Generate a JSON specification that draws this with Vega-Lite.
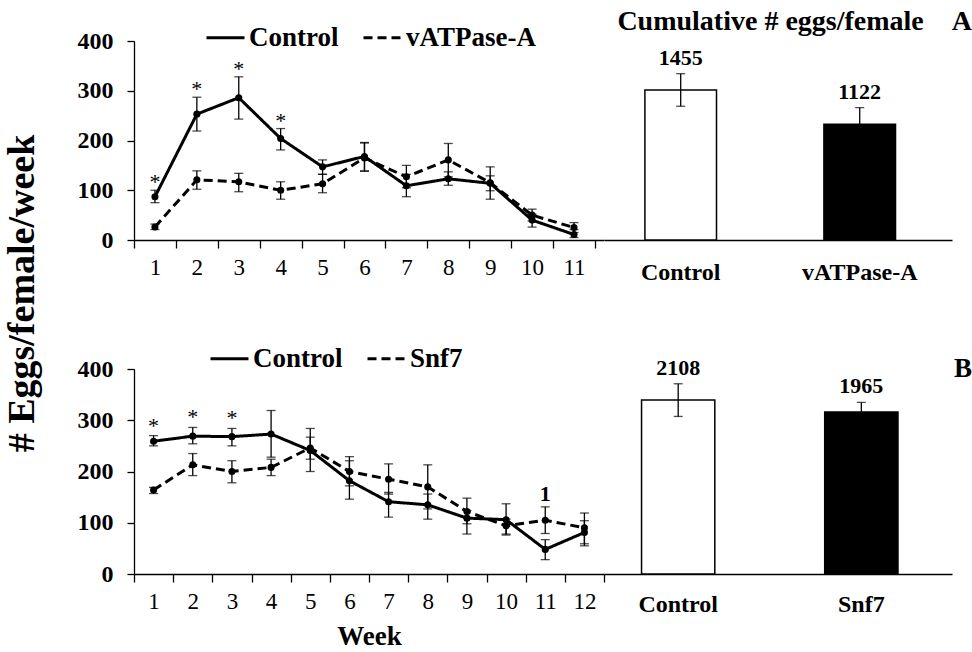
{
  "$schema": "https://vega.github.io/schema/vega-lite/v6.json",
  "background": "white",
  "padding": {"left": 3, "top": 8, "right": 0, "bottom": 0},
  "bounds": "flush",
  "align": "each",
  "columns": 2,
  "spacing": {"row": 129, "column": 0},
  "resolve": {"scale": {"strokeDash": "independent", "fill": "independent"}, "legend": {"strokeDash": "independent", "fill": "independent"}},
  "config": {
    "font": "Liberation Serif",
    "view": {"stroke": null},
    "axis": {"domainColor": "black", "tickColor": "black", "labelColor": "black", "titleColor": "black", "grid": false, "domainWidth": 1.3, "tickWidth": 1.3},
    "legend": {"labelColor": "black"}
  },
  "datasets": {
    "lineA": [
      {"week": 1, "group": "Control", "mean": 87, "lo": 75, "hi": 100, "sig": "*"},
      {"week": 2, "group": "Control", "mean": 253, "lo": 219, "hi": 287, "sig": "*"},
      {"week": 3, "group": "Control", "mean": 286, "lo": 243, "hi": 328, "sig": "*"},
      {"week": 4, "group": "Control", "mean": 204, "lo": 181, "hi": 224, "sig": "*"},
      {"week": 5, "group": "Control", "mean": 147, "lo": 132, "hi": 161, "sig": ""},
      {"week": 6, "group": "Control", "mean": 168, "lo": 139, "hi": 196, "sig": ""},
      {"week": 7, "group": "Control", "mean": 109, "lo": 87, "hi": 132, "sig": ""},
      {"week": 8, "group": "Control", "mean": 123, "lo": 110, "hi": 137, "sig": ""},
      {"week": 9, "group": "Control", "mean": 114, "lo": 99, "hi": 129, "sig": ""},
      {"week": 10, "group": "Control", "mean": 40, "lo": 26, "hi": 52, "sig": ""},
      {"week": 11, "group": "Control", "mean": 11, "lo": 5, "hi": 21, "sig": ""},
      {"week": 1, "group": "vATPase-A", "mean": 26, "lo": 21, "hi": 32, "sig": ""},
      {"week": 2, "group": "vATPase-A", "mean": 121, "lo": 102, "hi": 139, "sig": ""},
      {"week": 3, "group": "vATPase-A", "mean": 117, "lo": 97, "hi": 134, "sig": ""},
      {"week": 4, "group": "vATPase-A", "mean": 100, "lo": 82, "hi": 117, "sig": ""},
      {"week": 5, "group": "vATPase-A", "mean": 113, "lo": 95, "hi": 132, "sig": ""},
      {"week": 6, "group": "vATPase-A", "mean": 165, "lo": 138, "hi": 195, "sig": ""},
      {"week": 7, "group": "vATPase-A", "mean": 127, "lo": 105, "hi": 150, "sig": ""},
      {"week": 8, "group": "vATPase-A", "mean": 161, "lo": 127, "hi": 194, "sig": ""},
      {"week": 9, "group": "vATPase-A", "mean": 115, "lo": 82, "hi": 147, "sig": ""},
      {"week": 10, "group": "vATPase-A", "mean": 50, "lo": 38, "hi": 62, "sig": ""},
      {"week": 11, "group": "vATPase-A", "mean": 25, "lo": 15, "hi": 35, "sig": ""}
    ],
    "lineB": [
      {"week": 1, "group": "Control", "mean": 259, "lo": 250, "hi": 270, "sig": "*"},
      {"week": 2, "group": "Control", "mean": 269, "lo": 254, "hi": 286, "sig": "*"},
      {"week": 3, "group": "Control", "mean": 268, "lo": 250, "hi": 284, "sig": "*"},
      {"week": 4, "group": "Control", "mean": 273, "lo": 228, "hi": 319, "sig": ""},
      {"week": 5, "group": "Control", "mean": 241, "lo": 200, "hi": 284, "sig": ""},
      {"week": 6, "group": "Control", "mean": 182, "lo": 146, "hi": 221, "sig": ""},
      {"week": 7, "group": "Control", "mean": 141, "lo": 111, "hi": 159, "sig": ""},
      {"week": 8, "group": "Control", "mean": 135, "lo": 107, "hi": 156, "sig": ""},
      {"week": 9, "group": "Control", "mean": 109, "lo": 78, "hi": 124, "sig": ""},
      {"week": 10, "group": "Control", "mean": 106, "lo": 76, "hi": 137, "sig": ""},
      {"week": 11, "group": "Control", "mean": 48, "lo": 28, "hi": 67, "sig": ""},
      {"week": 12, "group": "Control", "mean": 81, "lo": 55, "hi": 104, "sig": ""},
      {"week": 1, "group": "Snf7", "mean": 164, "lo": 157, "hi": 169, "sig": ""},
      {"week": 2, "group": "Snf7", "mean": 213, "lo": 192, "hi": 235, "sig": ""},
      {"week": 3, "group": "Snf7", "mean": 200, "lo": 178, "hi": 221, "sig": ""},
      {"week": 4, "group": "Snf7", "mean": 208, "lo": 192, "hi": 224, "sig": ""},
      {"week": 5, "group": "Snf7", "mean": 246, "lo": 224, "hi": 267, "sig": ""},
      {"week": 6, "group": "Snf7", "mean": 200, "lo": 172, "hi": 229, "sig": ""},
      {"week": 7, "group": "Snf7", "mean": 185, "lo": 156, "hi": 215, "sig": ""},
      {"week": 8, "group": "Snf7", "mean": 170, "lo": 127, "hi": 213, "sig": ""},
      {"week": 9, "group": "Snf7", "mean": 122, "lo": 98, "hi": 148, "sig": ""},
      {"week": 10, "group": "Snf7", "mean": 94, "lo": 78, "hi": 107, "sig": ""},
      {"week": 11, "group": "Snf7", "mean": 105, "lo": 79, "hi": 131, "sig": "1"},
      {"week": 12, "group": "Snf7", "mean": 90, "lo": 59, "hi": 119, "sig": ""}
    ],
    "barA": [
      {"group": "Control", "value": 1455, "lo": 1297, "hi": 1613},
      {"group": "vATPase-A", "value": 1122, "lo": 961, "hi": 1283}
    ],
    "barB": [
      {"group": "Control", "value": 2108, "lo": 1910, "hi": 2306},
      {"group": "Snf7", "value": 1965, "lo": 1850, "hi": 2080}
    ]
  },
  "concat": [
    {
      "width": 470,
      "height": 199,
      "data": {"name": "lineA"},
      "encoding": {
        "x": {"field": "week", "type": "ordinal", "scale": {"paddingInner": 0, "paddingOuter": 0.108, "align": 0},
          "axis": {"title": null, "labelAngle": 0, "labelFontSize": 23, "tickBand": "extent", "tickSize": 8, "labelPadding": 8}}
      },
      "layer": [
        {
          "mark": {"type": "errorbar", "ticks": {"size": 9, "color": "black"}, "color": "black", "thickness": 1.3},
          "encoding": {
            "y": {"field": "lo", "type": "quantitative", "scale": {"domain": [0, 400], "nice": false},
              "axis": {"title": null, "values": [0, 100, 200, 300, 400], "labelFontWeight": "bold", "labelFontSize": 24, "tickSize": 7, "labelPadding": 14}},
            "y2": {"field": "hi"}
          }
        },
        {
          "mark": {"type": "line", "color": "black", "strokeWidth": 3},
          "encoding": {
            "y": {"field": "mean", "type": "quantitative", "scale": {"domain": [0, 400], "nice": false}, "axis": {"title": null, "values": [0, 100, 200, 300, 400], "labelFontWeight": "bold", "labelFontSize": 24, "tickSize": 7, "labelPadding": 14}},
            "strokeDash": {"field": "group", "type": "nominal",
              "scale": {"domain": ["Control", "vATPase-A"], "range": [[1, 0], [9, 5]]},
              "legend": {"orient": "none", "legendX": 71, "legendY": -24, "direction": "horizontal", "title": null, "symbolType": "stroke", "symbolSize": 1444, "symbolStrokeWidth": 3, "symbolStrokeColor": "black", "labelFontSize": 27, "labelFontWeight": "bold", "labelOffset": 3, "columnPadding": 18}}
          }
        },
        {
          "mark": {"type": "point", "filled": true, "color": "black", "size": 50, "opacity": 1},
          "encoding": {
            "y": {"field": "mean", "type": "quantitative", "scale": {"domain": [0, 400], "nice": false}, "axis": {"title": null, "values": [0, 100, 200, 300, 400], "labelFontWeight": "bold", "labelFontSize": 24, "tickSize": 7, "labelPadding": 14}},
            "detail": {"field": "group"}
          }
        },
        {
          "transform": [{"filter": "datum.sig == '*'"}],
          "mark": {"type": "text", "fontSize": 22, "baseline": "alphabetic", "dy": -1, "color": "black"},
          "encoding": {
            "y": {"field": "hi", "type": "quantitative", "scale": {"domain": [0, 400], "nice": false}, "axis": {"title": null, "values": [0, 100, 200, 300, 400], "labelFontWeight": "bold", "labelFontSize": 24, "tickSize": 7, "labelPadding": 14}},
            "text": {"field": "sig"}
          }
        }
      ]
    },
    {
      "width": 348,
      "height": 199,
      "data": {"name": "barA"},
      "title": {"text": "Cumulative # eggs/female\u00a0\u00a0\u00a0\u00a0A", "anchor": "end", "frame": "group", "dx": 20, "fontSize": 28, "fontWeight": "bold", "offset": -17, "baseline": "alphabetic", "color": "black", "font": "Liberation Serif"},
      "encoding": {
        "x": {"field": "group", "type": "nominal", "sort": null,
          "scale": {"paddingInner": 0.6, "paddingOuter": 0.272, "align": 0.42},
          "axis": {"title": null, "ticks": false, "labelAngle": 0, "labelFontSize": 24, "labelFontWeight": "bold", "labelPadding": 20}}
      },
      "layer": [
        {
          "mark": {"type": "bar", "stroke": "black", "strokeWidth": 1.5},
          "encoding": {
            "y": {"field": "value", "type": "quantitative", "scale": {"domain": [0, 1930], "nice": false}, "axis": null},
            "fill": {"field": "group", "type": "nominal", "scale": {"domain": ["Control", "vATPase-A"], "range": ["white", "black"]}, "legend": null}
          }
        },
        {
          "mark": {"type": "errorbar", "ticks": {"size": 9, "color": "black"}, "color": "black", "thickness": 1.3},
          "encoding": {
            "y": {"field": "lo", "type": "quantitative", "scale": {"domain": [0, 1930], "nice": false}, "axis": null},
            "y2": {"field": "hi"}
          }
        },
        {
          "mark": {"type": "text", "fontSize": 22, "fontWeight": "bold", "baseline": "alphabetic", "dy": -9, "color": "black"},
          "encoding": {
            "y": {"field": "hi", "type": "quantitative", "scale": {"domain": [0, 1930], "nice": false}, "axis": null},
            "text": {"field": "value", "type": "quantitative", "format": "d"}
          }
        }
      ]
    },
    {
      "width": 470,
      "height": 205,
      "data": {"name": "lineB"},
      "encoding": {
        "x": {"field": "week", "type": "ordinal", "scale": {"paddingInner": 0, "paddingOuter": 0},
          "axis": {"title": "Week", "titleFontSize": 27, "titleFontWeight": "bold", "titlePadding": 10, "labelAngle": 0, "labelFontSize": 23, "tickBand": "extent", "tickSize": 8, "labelPadding": 8}}
      },
      "layer": [
        {
          "mark": {"type": "errorbar", "ticks": {"size": 9, "color": "black"}, "color": "black", "thickness": 1.3},
          "encoding": {
            "y": {"field": "lo", "type": "quantitative", "scale": {"domain": [0, 400], "nice": false},
              "axis": {"title": "# Eggs/female/week", "titleFontSize": 38, "titleFontWeight": "bold", "titleX": -112, "titleY": -76, "titleAngle": -90, "titleAlign": "center", "titleBaseline": "middle", "values": [0, 100, 200, 300, 400], "labelFontWeight": "bold", "labelFontSize": 24, "tickSize": 7, "labelPadding": 14}},
            "y2": {"field": "hi"}
          }
        },
        {
          "mark": {"type": "line", "color": "black", "strokeWidth": 3},
          "encoding": {
            "y": {"field": "mean", "type": "quantitative", "scale": {"domain": [0, 400], "nice": false},
              "axis": {"title": "# Eggs/female/week", "titleFontSize": 38, "titleFontWeight": "bold", "titleX": -112, "titleY": -76, "titleAngle": -90, "titleAlign": "center", "titleBaseline": "middle", "values": [0, 100, 200, 300, 400], "labelFontWeight": "bold", "labelFontSize": 24, "tickSize": 7, "labelPadding": 14}},
            "strokeDash": {"field": "group", "type": "nominal",
              "scale": {"domain": ["Control", "Snf7"], "range": [[1, 0], [9, 5]]},
              "legend": {"orient": "none", "legendX": 75, "legendY": -31, "direction": "horizontal", "title": null, "symbolType": "stroke", "symbolSize": 1444, "symbolStrokeWidth": 3, "symbolStrokeColor": "black", "labelFontSize": 27, "labelFontWeight": "bold", "labelOffset": 3, "columnPadding": 18}}
          }
        },
        {
          "mark": {"type": "point", "filled": true, "color": "black", "size": 50, "opacity": 1},
          "encoding": {
            "y": {"field": "mean", "type": "quantitative", "scale": {"domain": [0, 400], "nice": false},
              "axis": {"title": "# Eggs/female/week", "titleFontSize": 38, "titleFontWeight": "bold", "titleX": -112, "titleY": -76, "titleAngle": -90, "titleAlign": "center", "titleBaseline": "middle", "values": [0, 100, 200, 300, 400], "labelFontWeight": "bold", "labelFontSize": 24, "tickSize": 7, "labelPadding": 14}},
            "detail": {"field": "group"}
          }
        },
        {
          "transform": [{"filter": "datum.sig == '*'"}],
          "mark": {"type": "text", "fontSize": 22, "baseline": "alphabetic", "dy": -3, "color": "black"},
          "encoding": {
            "y": {"field": "hi", "type": "quantitative", "scale": {"domain": [0, 400], "nice": false},
              "axis": {"title": "# Eggs/female/week", "titleFontSize": 38, "titleFontWeight": "bold", "titleX": -112, "titleY": -76, "titleAngle": -90, "titleAlign": "center", "titleBaseline": "middle", "values": [0, 100, 200, 300, 400], "labelFontWeight": "bold", "labelFontSize": 24, "tickSize": 7, "labelPadding": 14}},
            "text": {"field": "sig"}
          }
        },
        {
          "transform": [{"filter": "datum.sig == '1'"}],
          "mark": {"type": "text", "fontSize": 22, "fontWeight": "bold", "baseline": "alphabetic", "dy": -6, "color": "black"},
          "encoding": {
            "y": {"field": "hi", "type": "quantitative", "scale": {"domain": [0, 400], "nice": false},
              "axis": {"title": "# Eggs/female/week", "titleFontSize": 38, "titleFontWeight": "bold", "titleX": -112, "titleY": -76, "titleAngle": -90, "titleAlign": "center", "titleBaseline": "middle", "values": [0, 100, 200, 300, 400], "labelFontWeight": "bold", "labelFontSize": 24, "tickSize": 7, "labelPadding": 14}},
            "text": {"field": "sig"}
          }
        }
      ]
    },
    {
      "width": 348,
      "height": 205,
      "data": {"name": "barB"},
      "title": {"text": "B", "anchor": "end", "frame": "group", "dx": 20, "fontSize": 27, "fontWeight": "bold", "offset": -47, "baseline": "alphabetic", "color": "black", "font": "Liberation Serif"},
      "encoding": {
        "x": {"field": "group", "type": "nominal", "sort": null,
          "scale": {"paddingInner": 0.6, "paddingOuter": 0.25, "align": 0.41},
          "axis": {"title": null, "ticks": false, "labelAngle": 0, "labelFontSize": 24, "labelFontWeight": "bold", "labelPadding": 18}}
      },
      "layer": [
        {
          "mark": {"type": "bar", "stroke": "black", "strokeWidth": 1.5},
          "encoding": {
            "y": {"field": "value", "type": "quantitative", "scale": {"domain": [0, 2485], "nice": false}, "axis": null},
            "fill": {"field": "group", "type": "nominal", "scale": {"domain": ["Control", "Snf7"], "range": ["white", "black"]}, "legend": null}
          }
        },
        {
          "mark": {"type": "errorbar", "ticks": {"size": 9, "color": "black"}, "color": "black", "thickness": 1.3},
          "encoding": {
            "y": {"field": "lo", "type": "quantitative", "scale": {"domain": [0, 2485], "nice": false}, "axis": null},
            "y2": {"field": "hi"}
          }
        },
        {
          "mark": {"type": "text", "fontSize": 22, "fontWeight": "bold", "baseline": "alphabetic", "dy": -9, "color": "black"},
          "encoding": {
            "y": {"field": "hi", "type": "quantitative", "scale": {"domain": [0, 2485], "nice": false}, "axis": null},
            "text": {"field": "value", "type": "quantitative", "format": "d"}
          }
        }
      ]
    }
  ]
}
